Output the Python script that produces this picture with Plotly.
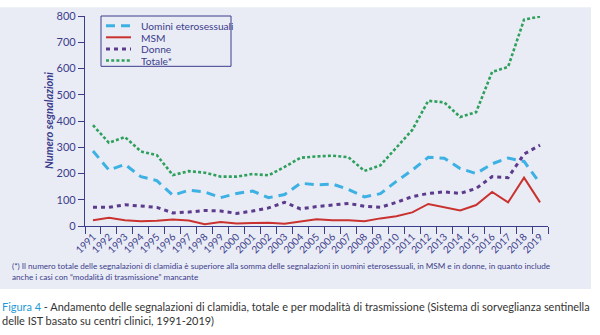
import plotly.graph_objects as go

# Reported chlamydia cases by transmission route, 1991-2019
years = [str(y) for y in range(1991, 2020)]

uomini_etero = [286, 213, 235, 188, 173, 117, 136, 130, 108, 124,
                133, 108, 120, 163, 157, 160, 139, 111, 123, 170,
                213, 262, 258, 219, 200, 237, 259, 246, 163]
msm = [22, 31, 22, 18, 20, 25, 21, 7, 15, 10,
       11, 12, 9, 17, 26, 22, 22, 18, 29, 37,
       52, 84, 71, 59, 80, 130, 90, 184, 90]
donne = [71, 71, 81, 77, 71, 50, 53, 59, 57, 48,
         57, 69, 90, 65, 74, 80, 86, 75, 71, 90,
         112, 124, 130, 124, 143, 188, 184, 274, 308]
totale = [384, 317, 339, 284, 270, 194, 209, 203, 188, 188,
          198, 193, 225, 260, 265, 268, 262, 210, 231, 300,
          366, 477, 471, 415, 434, 587, 606, 786, 798]

series_names = ["Uomini eterosessuali", "MSM", "Donne", "Totale*"]

NAVY = "#3c3c8c"
PANEL = "#e9ecf5"
FONT = "Lato"

colors = ["#3db1e3", "#c9322e", "#5c3b8c", "#2fa05c"]
widths = [3, 2, 3, 2.6]
dashes = ["9px,6px", "solid", "4px,4px", "3px,2.2px"]

W, H = 600, 335
ML, MR, MT, MB = 85, 52, 9, 109
PW, PH = W - ML - MR, H - MT - MB


def px_x(px):
    return (px - ML) / PW


def px_y(py):
    return (H - MB - py) / PH


fig = go.Figure()
for name, vals, c, w, d in zip(series_names, [uomini_etero, msm, donne, totale],
                               colors, widths, dashes):
    fig.add_trace(go.Scatter(
        x=years, y=vals, mode="lines", name=name,
        line=dict(color=c, width=w, dash=d),
        showlegend=False, cliponaxis=False,
    ))

shapes = [
    # light panel behind chart and footnote
    dict(type="rect", xref="paper", yref="paper", layer="below",
         x0=px_x(0), x1=px_x(591), y0=px_y(291), y1=px_y(0),
         fillcolor=PANEL, line=dict(width=0)),
    # legend box
    dict(type="rect", xref="paper", yref="paper",
         x0=px_x(101), x1=px_x(231), y0=px_y(61), y1=px_y(9),
         fillcolor=PANEL, line=dict(color=NAVY, width=1)),
]
annotations = []
for i, (name, c, w, d) in enumerate(zip(series_names, colors, widths, dashes)):
    yy = 19 + 12 * i
    shapes.append(dict(type="line", xref="paper", yref="paper",
                       x0=px_x(106), x1=px_x(131), y0=px_y(yy), y1=px_y(yy),
                       line=dict(color=c, width=w, dash=d)))
    annotations.append(dict(xref="paper", yref="paper", x=px_x(140), y=px_y(yy),
                            text=name, showarrow=False, xanchor="left", yanchor="middle",
                            height=11, borderpad=0,
                            font=dict(family=FONT, size=10.2, color=NAVY)))

annotations += [
    dict(xref="paper", yref="paper", x=px_x(10), y=px_y(267),
         text="(*) Il numero totale delle segnalazioni di clamidia è superiore alla somma delle "
              "segnalazioni in uomini eterosessuali, in MSM e in donne, in quanto include",
         showarrow=False, xanchor="left", yanchor="middle",
         font=dict(family=FONT, size=8.15, color=NAVY)),
    dict(xref="paper", yref="paper", x=px_x(10), y=px_y(279),
         text="anche i casi con “modalità di trasmissione” mancante",
         showarrow=False, xanchor="left", yanchor="middle",
         font=dict(family=FONT, size=8.15, color=NAVY)),
    dict(xref="paper", yref="paper", x=px_x(0), y=px_y(309),
         text="<span style='color:#1f9ad6'>Figura 4</span> - Andamento delle segnalazioni di clamidia, "
              "totale e per modalità di trasmissione (Sistema di sorveglianza sentinella",
         showarrow=False, xanchor="left", yanchor="middle",
         font=dict(family=FONT, size=10.95, color="#333333")),
    dict(xref="paper", yref="paper", x=px_x(0), y=px_y(324),
         text="delle IST basato su centri clinici, 1991-2019)",
         showarrow=False, xanchor="left", yanchor="middle",
         font=dict(family=FONT, size=10.95, color="#333333")),
    dict(xref="paper", yref="paper", x=px_x(48), y=0.5,
         text="<b><i>Numero segnalazioni</i></b>", textangle=-90,
         showarrow=False, xanchor="center", yanchor="middle",
         font=dict(family=FONT, size=11, color=NAVY)),
]

fig.update_layout(
    width=W, height=H,
    margin=dict(l=ML, r=MR, t=MT, b=MB, pad=0),
    paper_bgcolor="white", plot_bgcolor=PANEL,
    font=dict(family=FONT, color=NAVY),
    shapes=shapes, annotations=annotations,
    xaxis=dict(type="category", range=[-0.5, 28.5], tickson="boundaries",
               ticks="outside", ticklen=7, tickcolor=NAVY, tickwidth=1,
               showline=True, linecolor=NAVY, linewidth=1.3,
               showgrid=False, zeroline=False, tickangle=-45,
               tickfont=dict(family=FONT, size=10, color=NAVY)),
    yaxis=dict(range=[0, 800], dtick=100, ticks="outside", ticklen=6,
               tickcolor=NAVY, tickwidth=1.2,
               showline=True, linecolor=NAVY, linewidth=1.3,
               showgrid=False, zeroline=False,
               tickfont=dict(family=FONT, size=11, color=NAVY)),
)

fig.write_html("out.html")
